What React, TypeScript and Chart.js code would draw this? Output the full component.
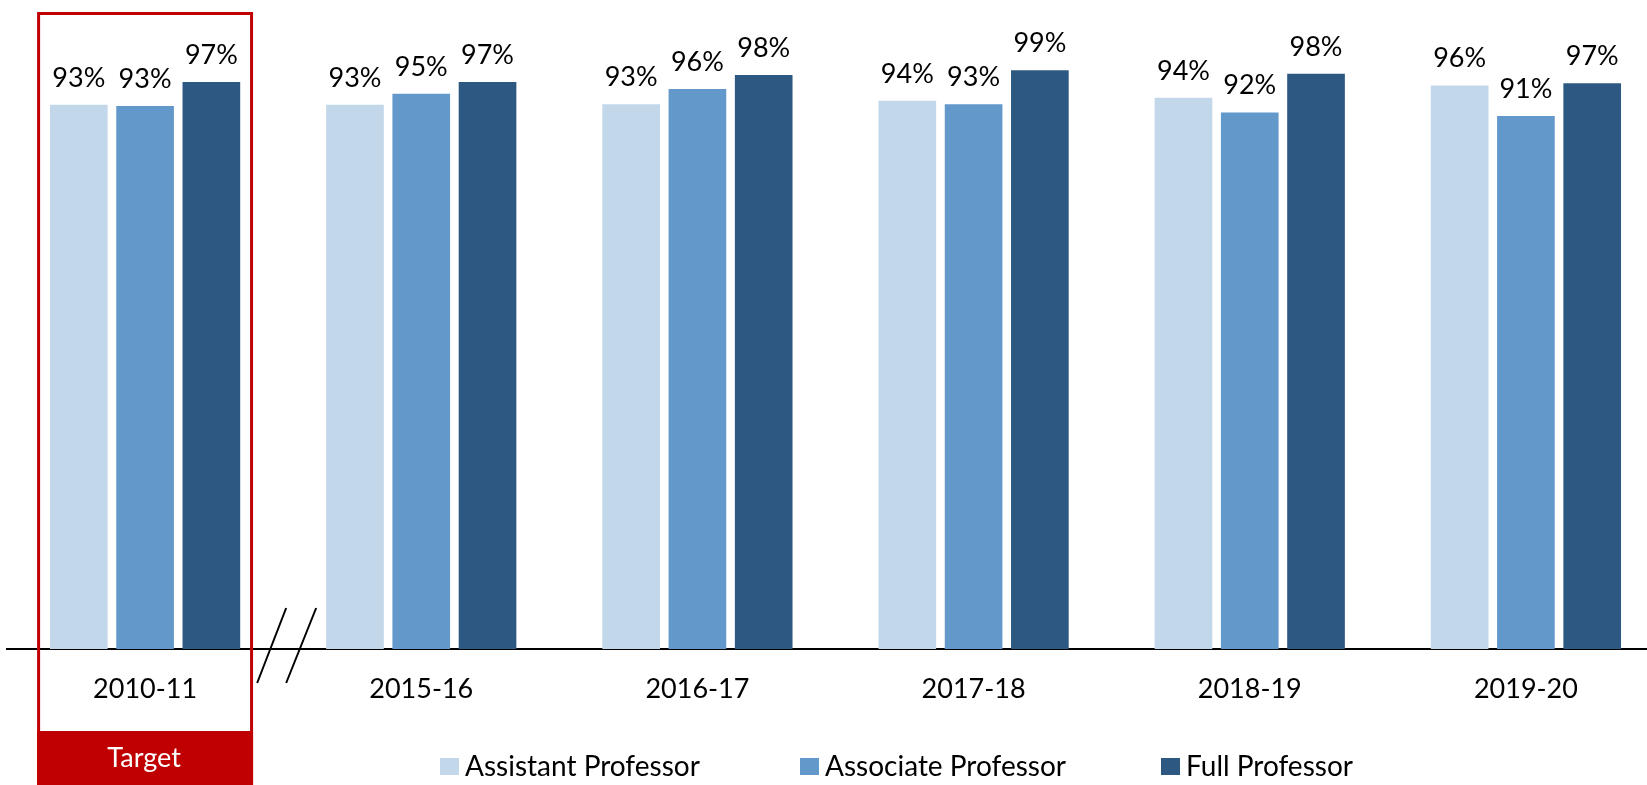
import React, { useEffect, useRef } from "react";
import { Chart, registerables } from "chart.js";

Chart.register(...registerables);

const categories = ["2010-11", "2015-16", "2016-17", "2017-18", "2018-19", "2019-20"];
const assistant = [93.1, 93.1, 93.2, 93.8, 94.3, 96.4];
const associate = [92.9, 95.0, 95.8, 93.2, 91.8, 91.2];
const full = [97.0, 97.0, 98.2, 99.0, 98.4, 96.8];
const seriesNames = ["Assistant Professor", "Associate Professor", "Full Professor"];
const seriesColors = ["#C3D7EB", "#6398CB", "#2C5882"];
const targetCategory = "2010-11";
const targetLabel = "Target";

const FONT = "Lato, 'Open Sans', sans-serif";
const LEGEND_X = [440, 800, 1161];

const decorPlugin = {
  id: "decor",
  afterDraw(chart: any) {
    const ctx = chart.ctx;
    const xs = chart.scales.x;
    const w = (xs.right - xs.left) / categories.length;
    ctx.save();

    // value labels
    ctx.font = `27px ${FONT}`;
    ctx.fillStyle = "#000";
    ctx.textAlign = "center";
    ctx.textBaseline = "alphabetic";
    chart.data.datasets.forEach((ds: any, i: number) => {
      const meta = chart.getDatasetMeta(i);
      meta.data.forEach((bar: any, j: number) => {
        ctx.fillText(Math.round(ds.data[j]) + "%", bar.x, bar.y - 18);
      });
    });

    // target box
    const idx = categories.indexOf(targetCategory);
    const cx = xs.getPixelForValue(idx);
    const half = w * 0.391;
    const left = cx - half;
    const right = cx + half;
    ctx.strokeStyle = "#C00000";
    ctx.lineWidth = 3;
    ctx.strokeRect(left + 1.5, 13.5, right - left - 3, chart.height);
    ctx.fillStyle = "#C00000";
    ctx.fillRect(left, 731, right - left, chart.height - 731 + 10);
    ctx.fillStyle = "#fff";
    ctx.font = `27px ${FONT}`;
    ctx.textBaseline = "middle";
    ctx.fillText(targetLabel, cx - 1, 758);

    // axis break marks
    const b = xs.left + w * (idx + 1);
    ctx.strokeStyle = "#000";
    ctx.lineWidth = 2;
    ctx.beginPath();
    ctx.moveTo(b + 3, 608);
    ctx.lineTo(b - 26, 683);
    ctx.moveTo(b + 33, 608);
    ctx.lineTo(b + 3, 683);
    ctx.stroke();

    // legend
    ctx.font = `28px ${FONT}`;
    ctx.textAlign = "left";
    ctx.textBaseline = "middle";
    chart.data.datasets.forEach((ds: any, i: number) => {
      const lx = LEGEND_X[i];
      ctx.fillStyle = ds.backgroundColor;
      ctx.fillRect(lx, 758, 19, 17);
      ctx.fillStyle = "#000";
      ctx.fillText(ds.label, lx + 25, 767);
    });

    ctx.restore();
  },
};

export default function App() {
  const ref = useRef<HTMLCanvasElement>(null);
  useEffect(() => {
    if (!ref.current) return;
    const chart = new Chart(ref.current, {
      type: "bar",
      data: {
        labels: categories,
        datasets: [assistant, associate, full].map((d, i) => ({
          label: seriesNames[i],
          data: d,
          backgroundColor: seriesColors[i],
          barPercentage: 0.87,
          categoryPercentage: 0.72,
        })),
      },
      options: {
        responsive: false,
        animation: false,
        devicePixelRatio: 1,
        layout: { padding: { left: 7, right: 16, top: 6, bottom: 0 } },
        plugins: { legend: { display: false }, tooltip: { enabled: false } },
        scales: {
          x: {
            grid: { display: false, drawTicks: false },
            border: { display: true, color: "#000", width: 2 },
            ticks: { font: { family: FONT, size: 27 }, color: "#000", padding: 24 },
            afterFit: (s: any) => {
              s.height = 136;
            },
          },
          y: { display: false, min: 0, max: 110 },
        },
      },
      plugins: [decorPlugin],
    });
    return () => chart.destroy();
  }, []);
  return (
    <div
      style={{
        position: "fixed",
        left: 0,
        top: 0,
        width: 1647,
        height: 785,
        overflow: "hidden",
        background: "#fff",
      }}
    >
      <canvas ref={ref} width={1680} height={785} style={{ width: 1680, height: 785, display: "block" }} />
    </div>
  );
}
